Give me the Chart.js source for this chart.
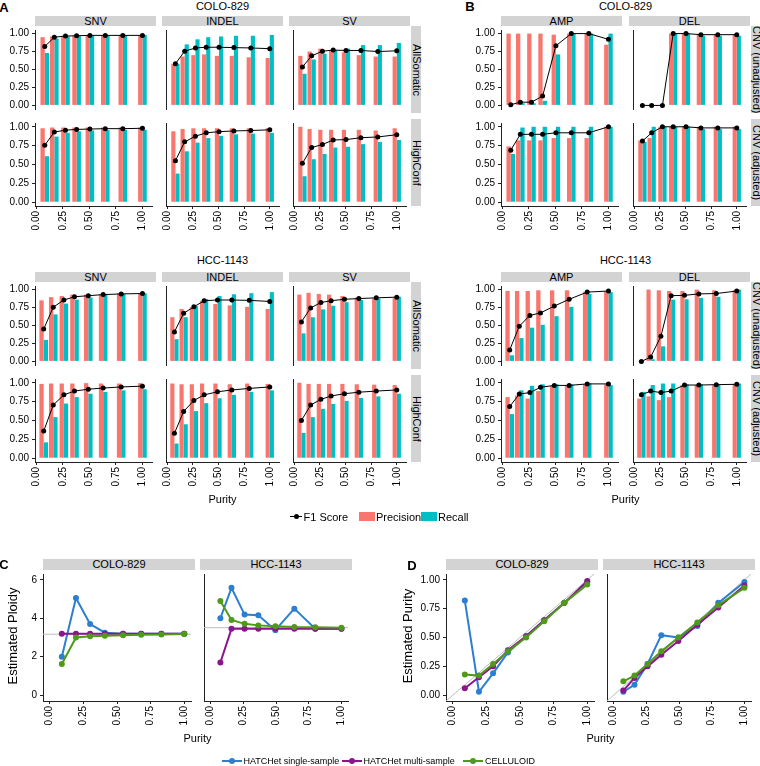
<!DOCTYPE html>
<html>
<head>
<meta charset="utf-8">
<script src="https://cdn.jsdelivr.net/npm/chart.js@4.4.1/dist/chart.umd.min.js"></script>
<style>
  body { margin: 0; background: #fff; }
  #fig { position: relative; width: 760px; height: 766px; overflow: hidden; font-family: 'Liberation Sans', Arial, sans-serif; color: #000; }
  #fig canvas { position: absolute; }
  .strip { position: absolute; background: #d3d3d3; display: flex; align-items: center; justify-content: center; white-space: nowrap; line-height: 1; }
  .strip.vert { writing-mode: vertical-rl; }
  .txt { position: absolute; white-space: nowrap; line-height: 1; transform: translate(-50%, -50%); }
  .leg { position: absolute; white-space: nowrap; line-height: 1; transform: translateY(-50%); }
</style>
</head>
<body>
<div id="fig"></div>
<script>
// ---- data ----
const samples = ['COLO-829', 'HCC-1143'];
const variantTypes = ['SNV', 'INDEL', 'SV'];
const callSets = ['AllSomatic', 'HighConf'];
const cnvTypes = ['AMP', 'DEL'];
const cnvModes = ['CNV (unadjusted)', 'CNV (adjusted)'];
const scoreTicks = [0, 0.25, 0.5, 0.75, 1];
const purityTicks = [0, 0.25, 0.5, 0.75, 1];
const ploidyTicks = [0, 2, 4, 6];

// purity of the mixtures (x positions)
const coloPurityAB = [0.08, 0.17, 0.275, 0.38, 0.505, 0.65, 0.815, 1.0];
const hccPurityAB = [0.07, 0.16, 0.26, 0.36, 0.49, 0.63, 0.80, 1.0];
const coloPurityCD = [0.09, 0.195, 0.30, 0.41, 0.545, 0.68, 0.83, 1.0];
const hccPurityCD = [0.075, 0.16, 0.26, 0.365, 0.495, 0.64, 0.80, 1.0];

// A - COLO-829
const colo_snv_all_prec = [0.95, 0.96, 0.97, 0.97, 0.97, 0.97, 0.97, 0.97];
const colo_snv_all_rec = [0.73, 0.93, 0.96, 0.97, 0.97, 0.97, 0.97, 0.98];
const colo_snv_all_f1 = [0.82, 0.95, 0.965, 0.97, 0.975, 0.975, 0.975, 0.975];
const colo_indel_all_prec = [0.58, 0.68, 0.70, 0.71, 0.69, 0.69, 0.67, 0.66];
const colo_indel_all_rec = [0.58, 0.85, 0.92, 0.95, 0.96, 0.97, 0.97, 0.98];
const colo_indel_all_f1 = [0.58, 0.755, 0.80, 0.81, 0.81, 0.805, 0.80, 0.79];
const colo_sv_all_prec = [0.69, 0.75, 0.79, 0.77, 0.74, 0.70, 0.68, 0.68];
const colo_sv_all_rec = [0.44, 0.64, 0.72, 0.77, 0.79, 0.84, 0.84, 0.87];
const colo_sv_all_f1 = [0.535, 0.69, 0.755, 0.77, 0.765, 0.765, 0.75, 0.76];
const colo_snv_hc_prec = [0.98, 0.99, 0.99, 0.99, 0.99, 0.99, 0.99, 0.99];
const colo_snv_hc_rec = [0.61, 0.87, 0.92, 0.94, 0.95, 0.955, 0.96, 0.96];
const colo_snv_hc_f1 = [0.755, 0.93, 0.955, 0.965, 0.97, 0.975, 0.975, 0.98];
const colo_indel_hc_prec = [0.94, 0.97, 0.98, 0.98, 0.98, 0.98, 0.98, 0.98];
const colo_indel_hc_rec = [0.38, 0.675, 0.79, 0.85, 0.88, 0.90, 0.91, 0.92];
const colo_indel_hc_f1 = [0.55, 0.80, 0.875, 0.92, 0.935, 0.945, 0.95, 0.96];
const colo_sv_hc_prec = [1.0, 0.97, 0.96, 0.96, 0.96, 0.96, 0.95, 0.98];
const colo_sv_hc_rec = [0.345, 0.57, 0.64, 0.725, 0.735, 0.77, 0.80, 0.825];
const colo_sv_hc_f1 = [0.515, 0.725, 0.765, 0.825, 0.83, 0.855, 0.865, 0.895];

// A - HCC-1143
const hcc_snv_all_prec = [0.85, 0.895, 0.91, 0.93, 0.93, 0.935, 0.945, 0.95];
const hcc_snv_all_rec = [0.30, 0.655, 0.805, 0.86, 0.89, 0.925, 0.94, 0.95];
const hcc_snv_all_f1 = [0.45, 0.755, 0.855, 0.90, 0.915, 0.93, 0.94, 0.945];
const hcc_indel_all_prec = [0.615, 0.73, 0.755, 0.845, 0.80, 0.78, 0.76, 0.73];
const hcc_indel_all_rec = [0.31, 0.615, 0.77, 0.87, 0.91, 0.935, 0.95, 0.965];
const hcc_indel_all_f1 = [0.41, 0.67, 0.76, 0.845, 0.855, 0.855, 0.85, 0.835];
const hcc_sv_all_prec = [0.93, 0.955, 0.94, 0.93, 0.91, 0.89, 0.88, 0.88];
const hcc_sv_all_rec = [0.39, 0.615, 0.725, 0.775, 0.825, 0.855, 0.875, 0.90];
const hcc_sv_all_f1 = [0.55, 0.745, 0.82, 0.845, 0.865, 0.875, 0.885, 0.895];
const hcc_snv_hc_prec = [0.985, 0.99, 0.99, 0.99, 0.995, 0.99, 0.99, 0.995];
const hcc_snv_hc_rec = [0.21, 0.545, 0.725, 0.81, 0.855, 0.88, 0.90, 0.915];
const hcc_snv_hc_f1 = [0.36, 0.705, 0.84, 0.89, 0.915, 0.93, 0.945, 0.955];
const hcc_indel_hc_prec = [0.99, 0.98, 0.98, 0.99, 0.99, 0.98, 0.99, 0.985];
const hcc_indel_hc_rec = [0.195, 0.45, 0.625, 0.73, 0.795, 0.84, 0.88, 0.90];
const hcc_indel_hc_f1 = [0.33, 0.62, 0.765, 0.84, 0.88, 0.905, 0.925, 0.945];
const hcc_sv_hc_prec = [1.0, 0.985, 0.985, 0.985, 0.985, 0.98, 0.975, 0.97];
const hcc_sv_hc_rec = [0.335, 0.545, 0.655, 0.72, 0.76, 0.80, 0.82, 0.855];
const hcc_sv_hc_f1 = [0.50, 0.705, 0.78, 0.825, 0.855, 0.875, 0.89, 0.905];

// B - COLO-829
const colo_amp_raw_prec = [1.0, 1.0, 1.0, 1.0, 0.985, 1.0, 1.0, 0.845];
const colo_amp_raw_rec = [0.005, 0.03, 0.03, 0.065, 0.71, 1.0, 1.0, 1.0];
const colo_amp_raw_f1 = [0.01, 0.045, 0.045, 0.13, 0.83, 1.0, 1.0, 0.92];
const colo_del_raw_prec = [null, null, null, 1.0, 1.0, 0.99, 0.99, 0.99];
const colo_del_raw_rec = [0, 0, 0, 1.0, 1.0, 0.97, 0.97, 0.97];
const colo_del_raw_f1 = [0, 0, 0, 1.0, 1.0, 0.985, 0.985, 0.985];
const colo_amp_adj_prec = [0.74, 0.82, 0.82, 0.82, 0.85, 0.85, 0.85, 1.0];
const colo_amp_adj_rec = [0.64, 0.99, 1.0, 1.0, 1.0, 1.0, 1.0, 1.0];
const colo_amp_adj_f1 = [0.69, 0.90, 0.90, 0.90, 0.92, 0.92, 0.92, 1.0];
const colo_del_adj_prec = [0.82, 0.85, 1.0, 1.0, 1.0, 1.0, 1.0, 1.0];
const colo_del_adj_rec = [0.80, 1.0, 1.0, 1.0, 1.0, 0.97, 0.97, 0.97];
const colo_del_adj_f1 = [0.81, 0.92, 1.0, 1.0, 1.0, 0.985, 0.985, 0.985];

// B - HCC-1143
const hcc_amp_raw_prec = [0.98, 0.98, 0.98, 0.99, 0.99, 0.99, 0.97, 0.98];
const hcc_amp_raw_rec = [0.085, 0.325, 0.47, 0.51, 0.63, 0.76, 0.94, 0.965];
const hcc_amp_raw_f1 = [0.16, 0.49, 0.64, 0.675, 0.77, 0.865, 0.965, 0.98];
const hcc_del_raw_prec = [null, 1.0, 0.99, 0.98, 0.98, 1.0, 0.99, 0.99];
const hcc_del_raw_rec = [0, 0.03, 0.21, 0.86, 0.865, 0.885, 0.90, 1.0];
const hcc_del_raw_f1 = [0, 0.06, 0.35, 0.915, 0.92, 0.94, 0.945, 0.98];
const hcc_amp_adj_prec = [0.81, 0.83, 0.79, 0.89, 0.96, 0.96, 0.98, 0.98];
const hcc_amp_adj_rec = [0.585, 0.90, 0.96, 0.98, 0.98, 0.98, 0.99, 0.97];
const hcc_amp_adj_f1 = [0.685, 0.85, 0.87, 0.94, 0.965, 0.965, 0.985, 0.985];
const hcc_del_adj_prec = [0.79, 0.82, 0.77, 0.81, 0.97, 0.97, 0.97, 0.98];
const hcc_del_adj_rec = [0.88, 0.97, 0.99, 0.99, 0.98, 0.98, 0.98, 0.99];
const hcc_del_adj_f1 = [0.84, 0.89, 0.87, 0.89, 0.97, 0.97, 0.975, 0.98];

// C - estimated ploidy
const colo_ploidy_single = [2.0, 5.05, 3.7, 3.25, 3.2, 3.2, 3.2, 3.2];
const colo_ploidy_multi = [3.2, 3.2, 3.2, 3.2, 3.2, 3.2, 3.2, 3.2];
const colo_ploidy_celluloid = [1.62, 3.0, 3.06, 3.09, 3.12, 3.14, 3.16, 3.18];
const hcc_ploidy_single = [4.0, 5.58, 4.19, 4.16, 3.38, 4.5, 3.46, 3.46];
const hcc_ploidy_multi = [1.7, 3.45, 3.45, 3.45, 3.45, 3.45, 3.45, 3.45];
const hcc_ploidy_celluloid = [4.9, 3.91, 3.71, 3.63, 3.58, 3.54, 3.53, 3.51];
const truePloidy = [3.17, 3.51];

// D - estimated purity
const colo_purity_single = [0.82, 0.03, 0.19, 0.37, 0.51, 0.65, 0.80, 0.98];
const colo_purity_multi = [0.06, 0.155, 0.25, 0.39, 0.51, 0.65, 0.80, 0.99];
const colo_purity_celluloid = [0.18, 0.17, 0.27, 0.38, 0.50, 0.64, 0.80, 0.96];
const hcc_purity_single = [0.03, 0.09, 0.27, 0.52, 0.50, 0.60, 0.80, 0.98];
const hcc_purity_multi = [0.04, 0.15, 0.25, 0.35, 0.47, 0.61, 0.76, 0.95];
const hcc_purity_celluloid = [0.12, 0.17, 0.27, 0.38, 0.50, 0.63, 0.78, 0.93];

// ---- styles / layout ----
const RED = '#F8766D', CYAN = '#00BFC4';
const BLUE = '#2C7FD0', PURPLE = '#8C148C', GREEN = '#4F9A18';
const AXIS = '#222222';
const fig = document.getElementById('fig');

Chart.defaults.font.family = "'Liberation Sans', Arial, sans-serif";
Chart.defaults.color = '#000';
Chart.defaults.animation = false;

const refLines = {
  id: 'refLines',
  beforeDatasetsDraw(chart, args, opts) {
    if (opts.hline == null && !opts.diagonal) return;
    const { ctx, chartArea: a, scales: { x, y } } = chart;
    ctx.save();
    ctx.beginPath();
    ctx.rect(a.left, a.top, a.right - a.left, a.bottom - a.top);
    ctx.clip();
    ctx.strokeStyle = '#bdbdbd';
    ctx.lineWidth = 1;
    ctx.beginPath();
    if (opts.hline != null) {
      const py = y.getPixelForValue(opts.hline);
      ctx.moveTo(a.left, py);
      ctx.lineTo(a.right, py);
    }
    if (opts.diagonal) {
      ctx.moveTo(x.getPixelForValue(x.min), y.getPixelForValue(x.min));
      ctx.lineTo(x.getPixelForValue(x.max), y.getPixelForValue(x.max));
    }
    ctx.stroke();
    ctx.restore();
  }
};

function facet(o) {
  const ly = o.ly || 0, lx = o.lx || 0;
  const c = document.createElement('canvas');
  c.width = o.w + ly;
  c.height = o.h + lx;
  c.style.left = (o.x - ly) + 'px';
  c.style.top = o.y + 'px';
  fig.appendChild(c);
  return new Chart(c, {
    type: o.type,
    data: { datasets: o.datasets },
    options: {
      responsive: false,
      events: [],
      layout: { padding: 0 },
      plugins: { legend: { display: false }, tooltip: { enabled: false }, refLines: o.ref || {} },
      scales: {
        x: {
          type: 'linear', min: o.xMin, max: o.xMax, offset: false,
          display: lx > 0,
          afterBuildTicks: s => { s.ticks = o.xTicks.map(v => ({ value: v })); },
          afterFit: s => { s.height = lx; s.paddingLeft = 0; s.paddingRight = 0; },
          grid: { display: true, drawOnChartArea: false, offset: false, tickLength: 3, color: AXIS },
          border: { display: true, color: AXIS, width: 1 },
          ticks: { minRotation: 90, maxRotation: 90, autoSkip: false, padding: 2,
                   font: { size: o.tickSize }, callback: v => v.toFixed(2) }
        },
        y: {
          type: 'linear', min: o.yMin, max: o.yMax,
          afterBuildTicks: s => { s.ticks = o.yTicks.map(v => ({ value: v })); },
          afterFit: s => { s.width = ly; s.paddingTop = 0; s.paddingBottom = 0; },
          grid: { display: true, drawOnChartArea: false, drawTicks: ly > 0, tickLength: 3, color: AXIS },
          border: { display: true, color: AXIS, width: 1 },
          ticks: { display: ly > 0, autoSkip: false, padding: 3, font: { size: o.tickSize }, callback: o.yFmt }
        }
      }
    },
    plugins: [refLines]
  });
}

function txt(text, cx, cy, size, extra) {
  const d = document.createElement('div');
  d.className = 'txt';
  d.textContent = text;
  d.style.left = cx + 'px';
  d.style.top = cy + 'px';
  d.style.fontSize = size + 'px';
  if (extra) Object.assign(d.style, extra);
  fig.appendChild(d);
}

function strip(text, x, y, w, h, size, vert) {
  const d = document.createElement('div');
  d.className = vert ? 'strip vert' : 'strip';
  d.textContent = text;
  Object.assign(d.style, { left: x + 'px', top: y + 'px', width: w + 'px', height: h + 'px', fontSize: size + 'px' });
  fig.appendChild(d);
}

function box(x, y, w, h, bg, extra) {
  const d = document.createElement('div');
  Object.assign(d.style, { position: 'absolute', left: x + 'px', top: y + 'px', width: w + 'px', height: h + 'px', background: bg }, extra || {});
  fig.appendChild(d);
}

function leg(text, x, cy, size) {
  const d = document.createElement('div');
  d.className = 'leg';
  d.textContent = text;
  Object.assign(d.style, { left: x + 'px', top: cy + 'px', fontSize: size + 'px' });
  fig.appendChild(d);
}

const pts = (xs, ys) => xs.map((p, i) => ({ x: p, y: ys[i] }));

function scoreSets(purity, prec, rec, f1) {
  return [
    { type: 'line', label: 'F1 Score', data: pts(purity, f1), borderColor: '#000', borderWidth: 1,
      pointRadius: 2.5, pointBackgroundColor: '#000', pointBorderWidth: 0, order: 0 },
    { type: 'bar', label: 'Precision', data: pts(purity, prec), backgroundColor: RED,
      barPercentage: 1, categoryPercentage: 0.9, order: 1 },
    { type: 'bar', label: 'Recall', data: pts(purity, rec), backgroundColor: CYAN,
      barPercentage: 1, categoryPercentage: 0.9, order: 2 }
  ];
}

function methodSets(purity, single, multi, cell) {
  const mk = (label, ys, col, order) => ({ label, data: pts(purity, ys), borderColor: col, backgroundColor: col,
    borderWidth: 2, pointRadius: 3, pointBackgroundColor: col, pointBorderWidth: 0, order });
  return [
    mk('HATCHet single-sample', single, BLUE, 3),
    mk('HATCHet multi-sample', multi, PURPLE, 2),
    mk('CELLULOID', cell, GREEN, 1)
  ];
}

const fmt2 = v => v.toFixed(2);
const AB_XMIN = -0.012, AB_XMAX = 1.09, SC_MIN = -0.05, SC_MAX = 1.05;
const COL_W = 121, ROW_H = 87;

// ---- panels A and B ----
const gridA = [
  [[colo_snv_all_prec, colo_snv_all_rec, colo_snv_all_f1], [colo_indel_all_prec, colo_indel_all_rec, colo_indel_all_f1], [colo_sv_all_prec, colo_sv_all_rec, colo_sv_all_f1],
   [colo_snv_hc_prec, colo_snv_hc_rec, colo_snv_hc_f1], [colo_indel_hc_prec, colo_indel_hc_rec, colo_indel_hc_f1], [colo_sv_hc_prec, colo_sv_hc_rec, colo_sv_hc_f1]],
  [[hcc_snv_all_prec, hcc_snv_all_rec, hcc_snv_all_f1], [hcc_indel_all_prec, hcc_indel_all_rec, hcc_indel_all_f1], [hcc_sv_all_prec, hcc_sv_all_rec, hcc_sv_all_f1],
   [hcc_snv_hc_prec, hcc_snv_hc_rec, hcc_snv_hc_f1], [hcc_indel_hc_prec, hcc_indel_hc_rec, hcc_indel_hc_f1], [hcc_sv_hc_prec, hcc_sv_hc_rec, hcc_sv_hc_f1]]
];
const gridB = [
  [[colo_amp_raw_prec, colo_amp_raw_rec, colo_amp_raw_f1], [colo_del_raw_prec, colo_del_raw_rec, colo_del_raw_f1],
   [colo_amp_adj_prec, colo_amp_adj_rec, colo_amp_adj_f1], [colo_del_adj_prec, colo_del_adj_rec, colo_del_adj_f1]],
  [[hcc_amp_raw_prec, hcc_amp_raw_rec, hcc_amp_raw_f1], [hcc_del_raw_prec, hcc_del_raw_rec, hcc_del_raw_f1],
   [hcc_amp_adj_prec, hcc_amp_adj_rec, hcc_amp_adj_f1], [hcc_del_adj_prec, hcc_del_adj_rec, hcc_del_adj_f1]]
];
const purityAB = [coloPurityAB, hccPurityAB];
const rowTops = [[26, 119], [282, 375]];

function scoreBlock(cols, colNames, rowNames, grid, s, lyFirst) {
  const tops = rowTops[s];
  const nc = cols.length;
  colNames.forEach((n, ci) => strip(n, cols[ci], tops[0] - 10, COL_W, 10, 11));
  rowNames.forEach((n, ri) => strip(n, cols[nc - 1] + COL_W + 1, tops[ri], 10, ROW_H, 11, true));
  for (let ri = 0; ri < 2; ri++) {
    for (let ci = 0; ci < nc; ci++) {
      const [prec, rec, f1] = grid[s][ri * nc + ci];
      facet({
        type: 'bar', x: cols[ci], y: tops[ri], w: COL_W, h: ROW_H,
        ly: ci === 0 ? lyFirst : 0, lx: ri === 1 ? 36 : 0,
        xMin: AB_XMIN, xMax: AB_XMAX, yMin: SC_MIN, yMax: SC_MAX,
        xTicks: purityTicks, yTicks: scoreTicks, yFmt: fmt2, tickSize: 10,
        datasets: scoreSets(purityAB[s], prec, rec, f1)
      });
    }
  }
}

const colsA = [35, 162, 289];
const colsB = [501, 629];
for (let s = 0; s < 2; s++) {
  scoreBlock(colsA, variantTypes, callSets, gridA, s, 35);
  scoreBlock(colsB, cnvTypes, cnvModes, gridB, s, 40);
}
txt(samples[0], 222.5, 6, 11);
txt(samples[1], 222.5, 260, 11);
txt(samples[0], 625.5, 6, 11);
txt(samples[1], 625.5, 260, 11);
txt('Purity', 222.5, 499, 11);
txt('Purity', 625.5, 499, 11);
txt('A', 4, 7, 13, { fontWeight: 'bold' });
txt('B', 470, 6, 13, { fontWeight: 'bold' });

// legend for A/B
box(290, 515.5, 12, 1, '#000');
box(293.5, 513.5, 5, 5, '#000', { borderRadius: '50%' });
leg('F1 Score', 303.5, 516.5, 11);
box(359, 511.5, 16, 9.5, RED);
leg('Precision', 376, 516.5, 11);
box(420.5, 511.5, 16, 9.5, CYAN);
leg('Recall', 438, 516.5, 11);

// ---- panels C and D ----
const CD_W = 152, CD_TOP = 570, CD_H = 131;
const colsC = [43, 200];
const colsD = [446, 603];
const purityCD = [coloPurityCD, hccPurityCD];
const ploidySets = [[colo_ploidy_single, colo_ploidy_multi, colo_ploidy_celluloid], [hcc_ploidy_single, hcc_ploidy_multi, hcc_ploidy_celluloid]];
const puritySets = [[colo_purity_single, colo_purity_multi, colo_purity_celluloid], [hcc_purity_single, hcc_purity_multi, hcc_purity_celluloid]];

for (let s = 0; s < 2; s++) {
  strip(samples[s], colsC[s], CD_TOP - 11, CD_W, 11, 11);
  strip(samples[s], colsD[s], CD_TOP - 11, CD_W, 11, 11);
  facet({
    type: 'line', x: colsC[s], y: CD_TOP, w: CD_W, h: CD_H,
    ly: s === 0 ? 43 : 0, lx: 36,
    xMin: -0.05, xMax: 1.05, yMin: -0.3, yMax: 6.3,
    xTicks: purityTicks, yTicks: ploidyTicks, yFmt: v => String(v), tickSize: 10,
    ref: { hline: truePloidy[s] },
    datasets: methodSets(purityCD[s], ...ploidySets[s])
  });
  facet({
    type: 'line', x: colsD[s], y: CD_TOP, w: CD_W, h: CD_H,
    ly: s === 0 ? 40 : 0, lx: 36,
    xMin: -0.05, xMax: 1.05, yMin: -0.05, yMax: 1.05,
    xTicks: purityTicks, yTicks: scoreTicks, yFmt: fmt2, tickSize: 10,
    ref: { diagonal: true },
    datasets: methodSets(purityCD[s], ...puritySets[s])
  });
}
txt('Estimated Ploidy', 12, 635.5, 13, { transform: 'translate(-50%, -50%) rotate(-90deg)' });
txt('Estimated Purity', 407, 635.5, 13, { transform: 'translate(-50%, -50%) rotate(-90deg)' });
txt('Purity', 197.5, 738, 11);
txt('Purity', 600.5, 738, 11);
txt('C', 4, 564, 13, { fontWeight: 'bold' });
txt('D', 412, 565, 13, { fontWeight: 'bold' });

// legend for C/D
const legCD = [['HATCHet single-sample', BLUE, 221.5], ['HATCHet multi-sample', PURPLE, 341.5], ['CELLULOID', GREEN, 463]];
legCD.forEach(([name, col, x0]) => {
  box(x0, 760, 20, 2, col);
  box(x0 + 7, 758, 6, 6, col, { borderRadius: '50%' });
  leg(name, x0 + 22, 761, 9);
});
</script>
</body>
</html>
